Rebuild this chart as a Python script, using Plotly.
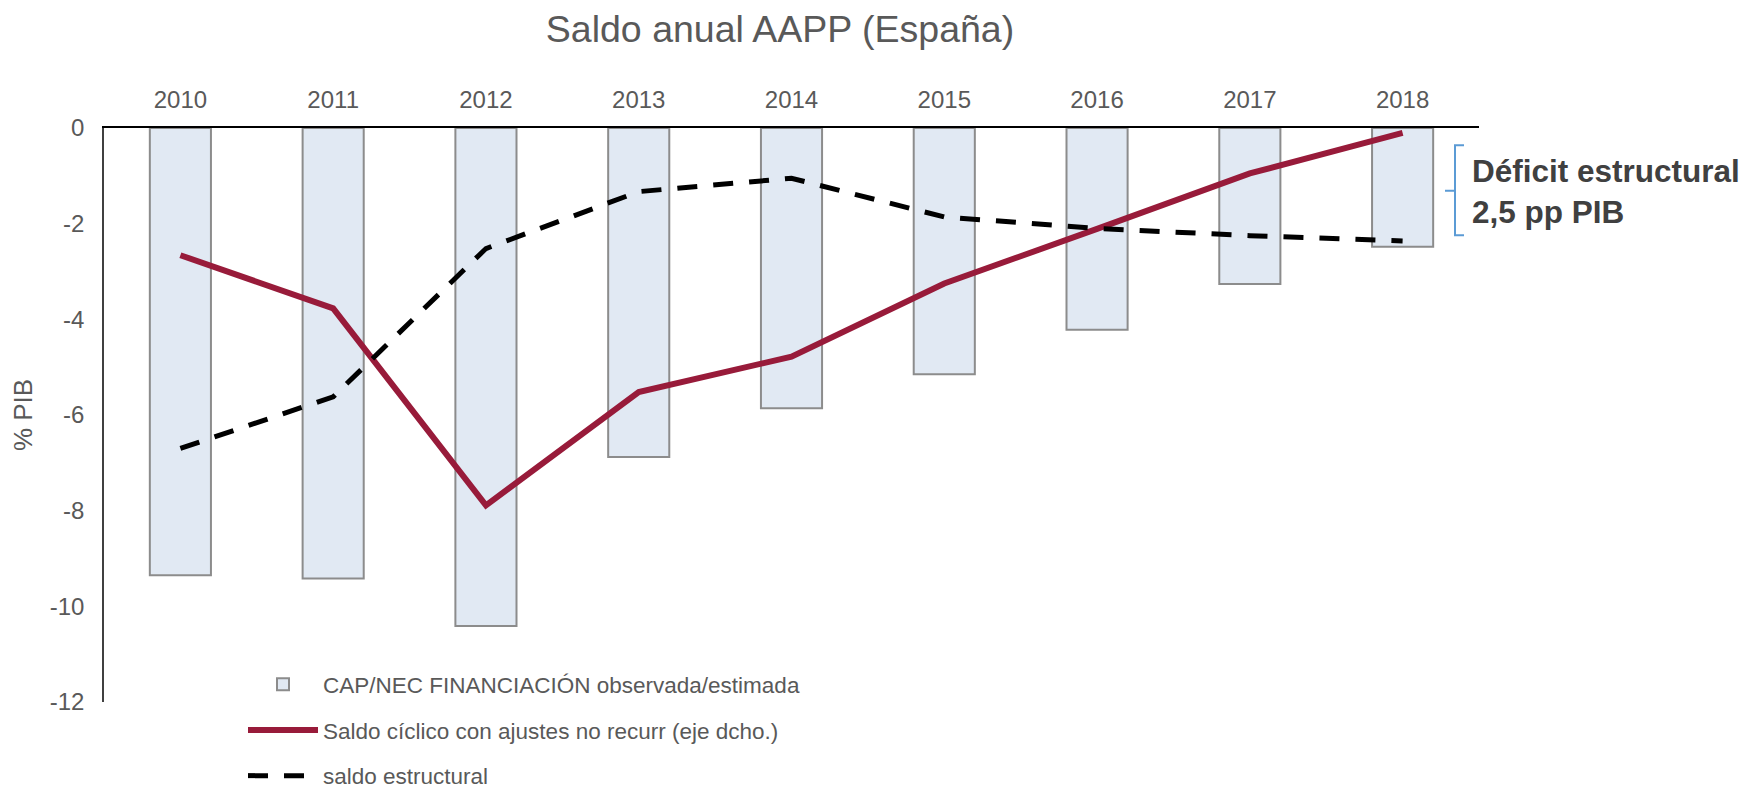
import plotly.graph_objects as go

years = ["2010", "2011", "2012", "2013", "2014", "2015", "2016", "2017", "2018"]
cap_nec = [-9.35, -9.42, -10.41, -6.88, -5.86, -5.15, -4.22, -3.26, -2.48]
saldo_ciclico = [-2.66, -3.77, -7.89, -5.52, -4.78, -3.25, -2.11, -0.95, -0.10]
saldo_estructural = [-6.70, -5.62, -2.52, -1.33, -1.05, -1.86, -2.10, -2.25, -2.36]
y_tickvals = [0, -2, -4, -6, -8, -10, -12]
y_ticktext = ["0", "-2", "-4", "-6", "-8", "-10", "-12"]

name_bar = "CAP/NEC FINANCIACIÓN observada/estimada"
name_red = "Saldo cíclico con ajustes no recurr (eje dcho.)"
name_dash = "saldo estructural"

# page has an 8px body margin: figure origin sits at (8, 8) on screen
OFF = 8
W, H = 1750 - OFF, 789 - OFF
L = 104 - OFF
T = 128 - OFF
R = W - (1479 - OFF)
B = H - (702 - OFF)
PW = W - L - R
PH = H - T - B


def px(xs):
    """screen x -> paper fraction"""
    return (xs - OFF - L) / PW


def py(ys):
    """screen y -> paper fraction"""
    return (H - B - (ys - OFF)) / PH


fig = go.Figure()
fig.add_trace(go.Bar(
    x=years, y=cap_nec, name=name_bar, legendgroup="a",
    marker=dict(color="#E1E9F3", line=dict(color="#8C8C8C", width=2)),
))
fig.add_trace(go.Scatter(
    x=years, y=saldo_ciclico, name=name_red, mode="lines", legendgroup="b",
    line=dict(color="#981B3A", width=6),
))
fig.add_trace(go.Scatter(
    x=years, y=saldo_estructural, name=name_dash, mode="lines", legendgroup="c",
    line=dict(color="#000000", width=5, dash="20px,16px"),
))

# bracket "{" next to the annotation
bx0, bxm, bx1 = px(1445), px(1455), px(1464)
y_top, y_mid, y_bot = -0.36, -1.31, -2.24
path = (f"M {bx1},{y_top} L {bxm},{y_top} L {bxm},{y_mid} L {bx0},{y_mid} "
        f"M {bxm},{y_mid} L {bxm},{y_bot} L {bx1},{y_bot}")
fig.add_shape(type="path", path=path, xref="paper", yref="y",
              line=dict(color="#5B9BD5", width=2))

fig.add_annotation(
    text="<b>Déficit estructural<br>2,5 pp PIB</b>",
    xref="paper", yref="y", x=px(1470), y=-1.33,
    xanchor="left", yanchor="middle", align="left", showarrow=False,
    font=dict(family="Liberation Sans, Arial", size=31.5, color="#404040"),
)

fig.update_layout(
    width=W, height=H,
    margin=dict(l=L, r=R, t=T, b=B, autoexpand=False),
    paper_bgcolor="white", plot_bgcolor="white",
    font=dict(family="Liberation Sans, Arial", color="#595959"),
    title=dict(text="Saldo anual AAPP (España)", x=(780 - OFF) / W, xanchor="center",
               y=1 - (29 - OFF) / H, yanchor="middle",
               font=dict(size=37.5, color="#595959")),
    bargap=0.6,
    showlegend=True,
    legend=dict(x=px(243), xanchor="left",
                y=py(663), yanchor="top",
                font=dict(size=22.5, color="#595959"),
                bgcolor="rgba(0,0,0,0)", itemwidth=70,
                tracegroupgap=13.5, traceorder="grouped"),
    xaxis=dict(type="category", side="top", showline=True, linecolor="#000000",
               linewidth=2, ticks="", showgrid=False, zeroline=False,
               automargin=False,
               tickfont=dict(size=24, color="#595959"), ticklabelstandoff=8),
    yaxis=dict(range=[-12, 0], tickvals=y_tickvals, ticktext=y_ticktext,
               showline=True, linecolor="#404040", automargin=False,
               linewidth=1.5, ticks="", showgrid=False, zeroline=False,
               tickfont=dict(size=24, color="#595959"), ticklabelstandoff=13,
               title=dict(text="% PIB", font=dict(size=26, color="#595959"),
                          standoff=18)),
)

fig.write_html("out.html")
